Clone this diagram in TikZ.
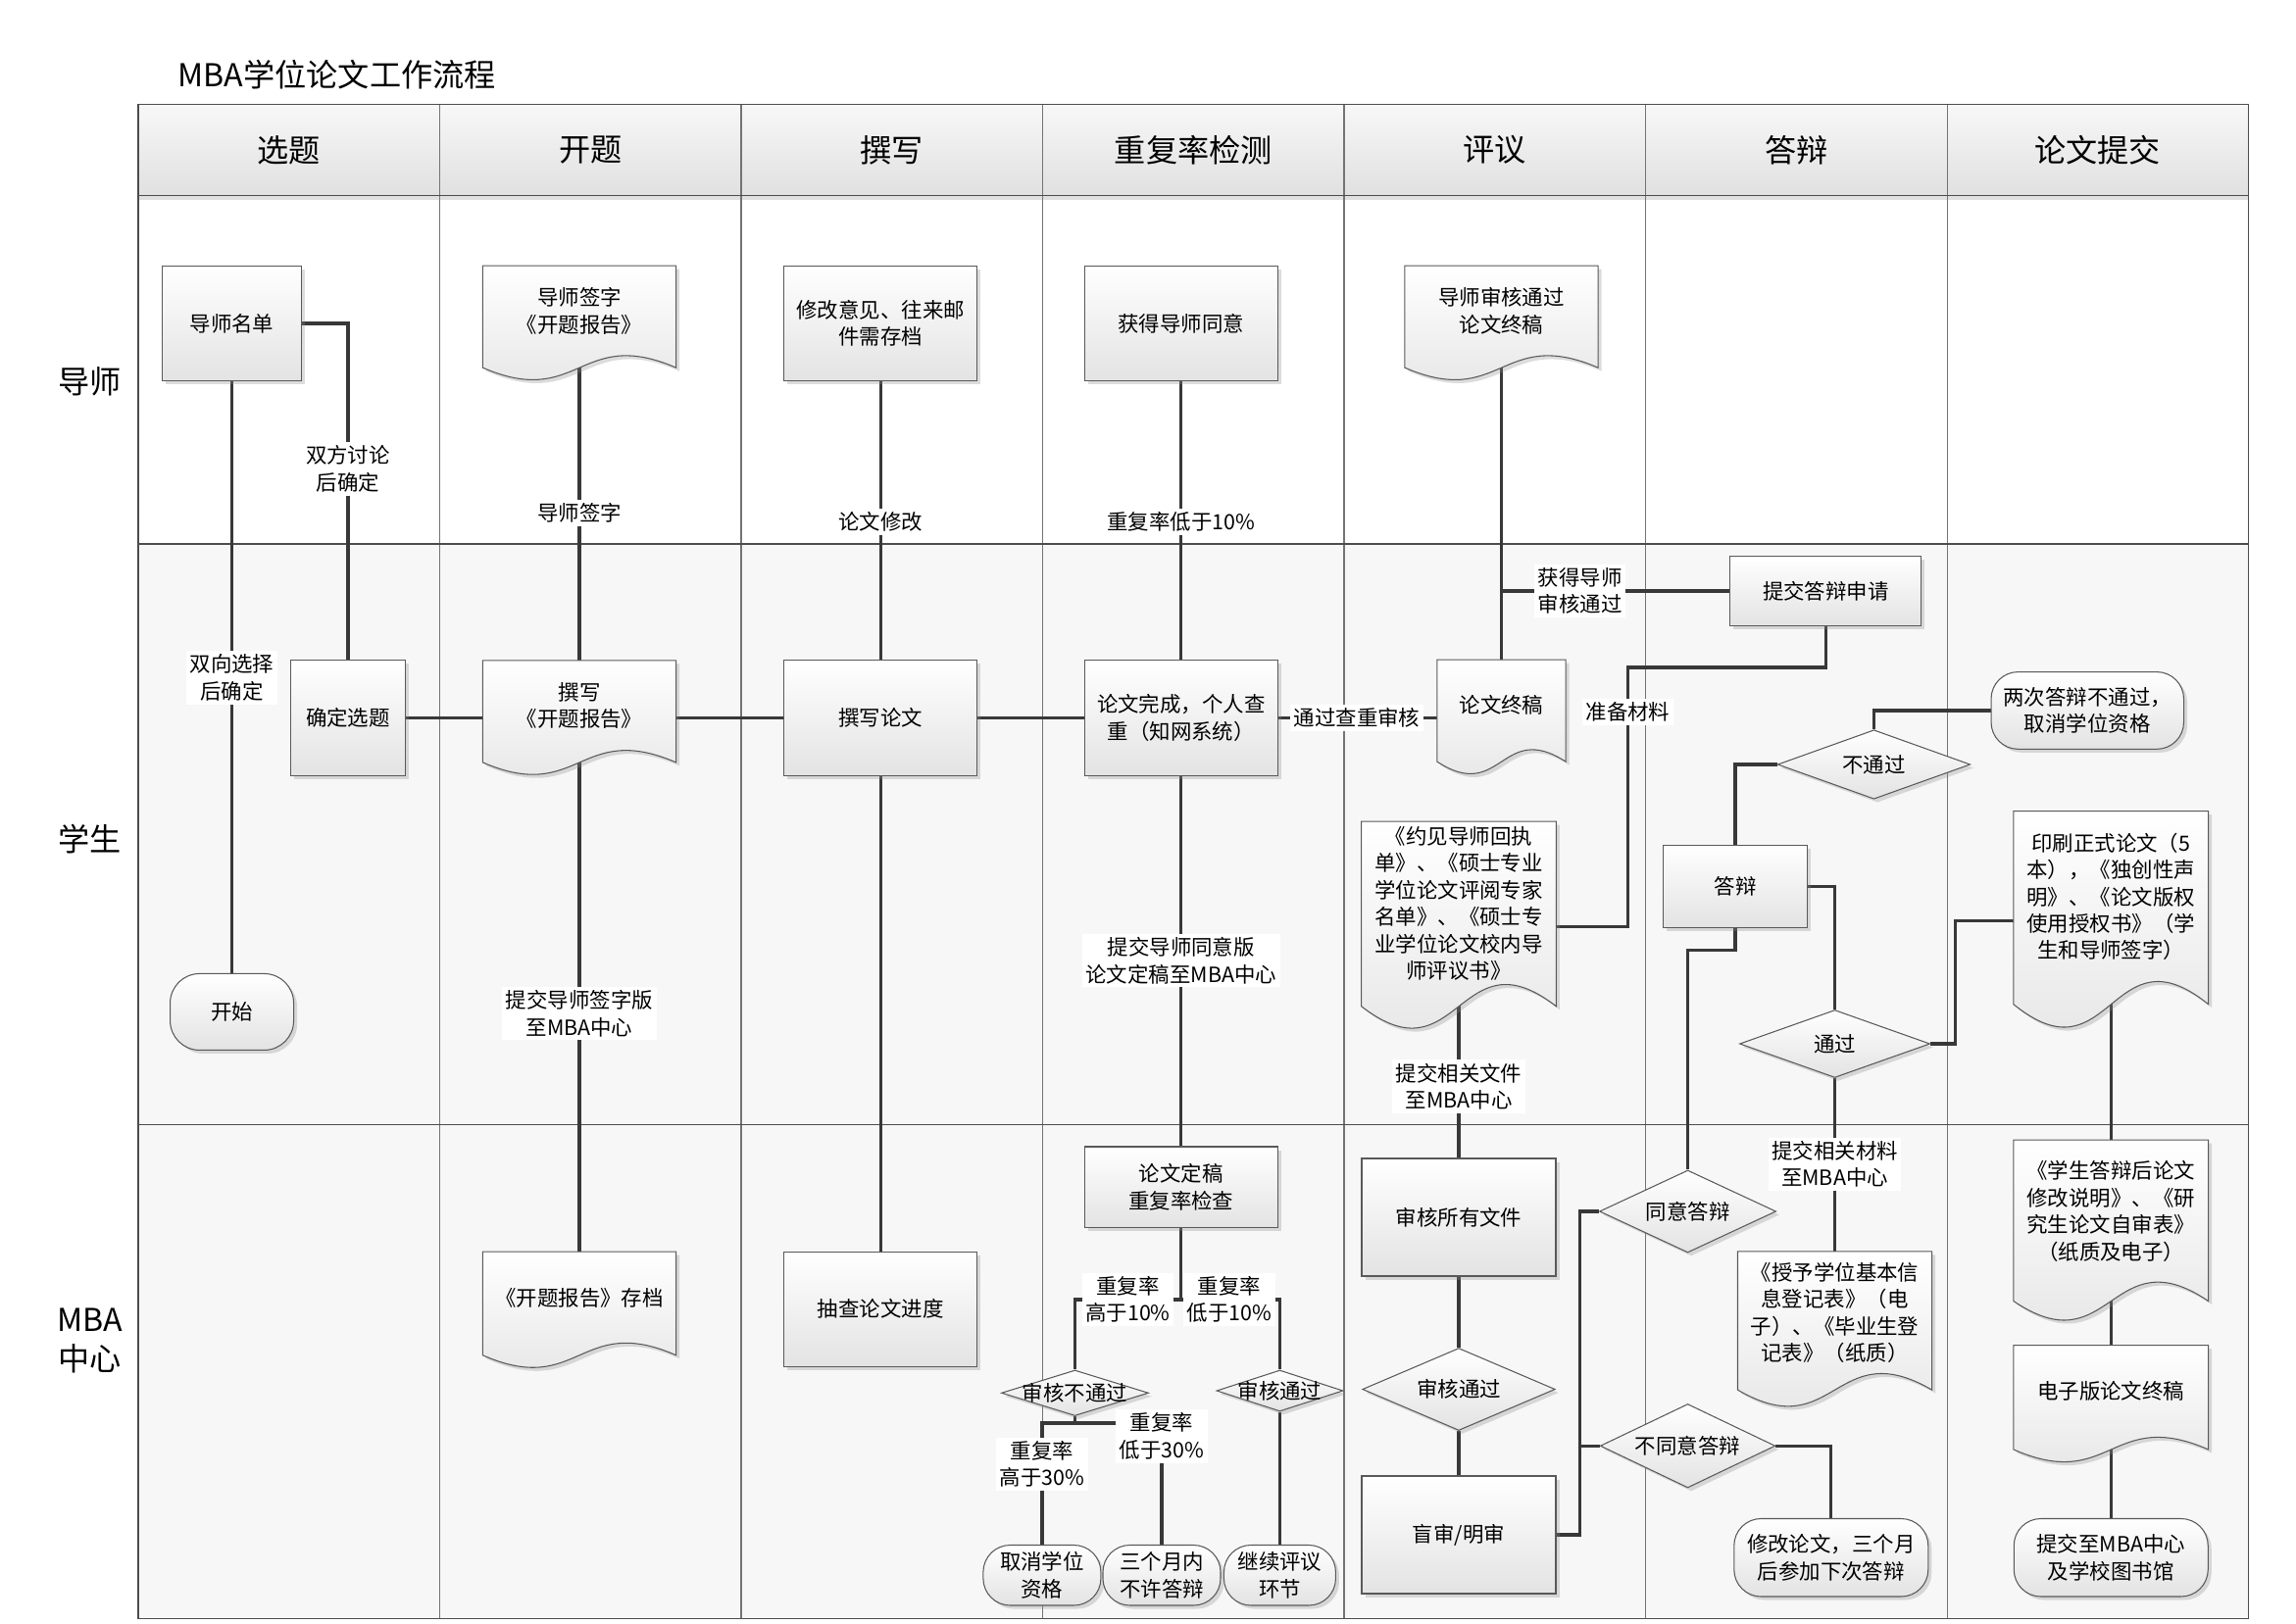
\documentclass[tikz,border=0pt]{standalone}
\usepackage{fontspec}
\setmainfont{Noto Sans CJK SC}
\usetikzlibrary{positioning}
\usetikzlibrary{shapes.geometric,shadows,calc}
\pgfdeclarelayer{lanes}
\pgfdeclarelayer{links}
\pgfdeclarelayer{frames}
\pgfsetlayers{lanes,links,frames,main}
\newcommand{\dtxt}[1]{\makebox[0pt]{#1}}
\tikzset{
        boxtext/.style={font=\fontsize{12.2}{15.6}\selectfont},
        % common look of the flow shapes
        flowshape/.style={boxtext, align=center, inner sep=1pt, draw=black!65, line width=0.6pt,
                          top color=white, bottom color=black!11,
                          drop shadow={shadow xshift=2pt, shadow yshift=-2pt, opacity=0.3, fill=black!45}},
        % process boxes
        procbox/.style={flowshape, rectangle},
        % terminals
        termbox/.style={flowshape, rectangle, rounded corners=0.55cm},
        % decisions
        decbox/.style={flowshape, diamond, inner sep=0pt},
        % documents (the wavy frame is drawn on its own layer)
        docbox/.style={boxtext, align=center, inner sep=1pt, rectangle},
        docframe/.style={draw=black!65, line width=0.6pt, top color=white, bottom color=black!11,
                         drop shadow={shadow xshift=2pt, shadow yshift=-2pt, opacity=0.3, fill=black!45}},
        wh/.style 2 args={minimum width=#1*0.03cm, minimum height=#2*0.03cm},
        link/.style={draw=black!78, line width=1.9pt},
        linklabel/.style={boxtext, align=center, fill=white, inner sep=2pt},
        headtext/.style={font=\fontsize{18.3}{23}\selectfont, align=center},
        gridline/.style={draw=black!70, line width=0.8pt},
        lanedivider/.style={draw=black!55, line width=0.6pt}
}
\begin{document}
\begin{tikzpicture}[x=0.03cm, y=-0.03cm]
\useasboundingbox (0,0) rectangle (1561.33,1104.67);

% swimlanes
\begin{pgfonlayer}{lanes}
  \fill[white] (0,0) rectangle (1561.33,1104.67);
  \fill[black!3] (94,370) rectangle (1529,1101);
  \shade[top color=black!3, bottom color=black!12] (94,71) rectangle (1529,133);
  \fill[black!12] (94,133) rectangle (1529,136);
  \foreach \i in {1,...,6}
    \draw[lanedivider] (94+205*\i,71) -- (94+205*\i,1101);
  \foreach \row in {133,370,765}
    \draw[gridline] (94,\row) -- (1529,\row);
  \draw[gridline] (94,71) rectangle (1529,1101);
\end{pgfonlayer}

\node[anchor=west, headtext] (title) at (117,51) {MBA学位论文工作流程};
\foreach \lanename [count=\i] in {选题,开题,撰写,重复率检测,评议,答辩,论文提交}
  \node[headtext] (head\i) at (205*\i-8.5,102) {\lanename};
\node[headtext] (tutor) at (61,259.5) {导师};
\node[headtext] (student) at (61,570.7) {学生};
\node[headtext] (centre) at (61,912) {MBA\\中心};

% 选题
\node[procbox, wh={95}{78.5}] (mentor) at (157.7,220) {导师名单};
\node[procbox, wh={78}{78.4}] (topic) at (236.6,488.4) {确定选题};
\node[termbox, wh={84}{52}, rounded corners=0.6cm] (start) at (157.7,688.3) {开始};
% 开题
\node[docbox, wh={131}{61}] (ktsign) at (394,211.5) {导师签字\\《开题报告》};
\node[docbox, wh={131}{61}] (ktwrite) at (394,480) {撰写\\《开题报告》};
\node[docbox, wh={131}{62}] (ktfile) at (394,882.6) {《开题报告》存档};
% 撰写
\node[procbox, wh={131}{78.5}] (comments) at (598.8,220) {修改意见、往来邮\\件需存档};
\node[procbox, wh={131}{78.5}] (write) at (598.8,488.4) {撰写论文};
\node[procbox, wh={131}{78}] (spot) at (598.8,890.5) {抽查论文进度};
% 重复率检测
\node[procbox, wh={131}{78.5}] (agree) at (803.2,220) {获得导师同意};
\node[procbox, wh={131}{78.5}] (check) at (803.2,488.4) {论文完成，个人查\\重（知网系统）};
\node[procbox, wh={131}{55}] (recheck) at (803.2,807.5) {论文定稿\\重复率检查};
\node[decbox, wh={100}{31}] (fail) at (731,947.5) {\dtxt{审核不通过}};
\node[decbox, wh={86}{28}] (okrate) at (870.3,946) {\dtxt{审核通过}};
\node[termbox, wh={80}{41}] (cancel) at (708.6,1071.5) {取消学位\\资格};
\node[termbox, wh={80}{41}] (wait3) at (790,1071.5) {三个月内\\不许答辩};
\node[termbox, wh={76}{41}] (cont) at (870.3,1071.5) {继续评议\\环节};
% 评议
\node[docbox, wh={131}{61}] (finalok) at (1021,211.5) {导师审核通过\\论文终稿};
\node[docbox, wh={87}{61}] (final) at (1021,479.5) {论文终稿};
\node[docbox, wh={132}{111}] (forms) at (992,614.5) {《约见导师回执\\单》、《硕士专业\\学位论文评阅专家\\名单》、《硕士专\\业学位论文校内导\\师评议书》};
\node[procbox, wh={132}{80}] (review) at (992,828) {审核所有文件};
\node[decbox, wh={131}{56}] (pass5) at (992,945) {\dtxt{审核通过}};
\node[procbox, wh={132}{80}] (blind) at (992,1044) {盲审/明审};
% 答辩
\node[procbox, wh={130}{47.5}] (defreq) at (1241.6,402) {提交答辩申请};
\node[decbox, wh={131}{47}] (failD) at (1274.3,520) {\dtxt{不通过}};
\node[procbox, wh={98.5}{56}] (debate) at (1180,603) {答辩};
\node[decbox, wh={129.4}{46}] (passD) at (1247.7,710) {\dtxt{通过}};
\node[docbox, wh={131.6}{83}] (grant) at (1247.7,893) {《授予学位基本信\\息登记表》（电\\子）、《毕业生登\\记表》（纸质）};
\node[decbox, wh={120}{56}] (agreeD) at (1147.7,824) {\dtxt{同意答辩}};
\node[decbox, wh={119}{57}] (disagreeD) at (1147.7,983.5) {\dtxt{不同意答辩}};
\node[termbox, wh={132}{53}] (retry) at (1245.2,1059.5) {修改论文，三个月\\后参加下次答辩};
% 论文提交
\node[termbox, wh={131}{52.5}] (twice) at (1419.5,483.3) {两次答辩不通过，\\取消学位资格};
\node[docbox, wh={132}{116}] (printdoc) at (1435.5,610) {印刷正式论文（5\\本），《独创性声\\明》、《论文版权\\使用授权书》（学\\生和导师签字）};
\node[docbox, wh={132}{96.7}] (revise) at (1435.5,824) {《学生答辩后论文\\修改说明》、《研\\究生论文自审表》\\（纸质及电子）};
\node[docbox, wh={132}{62.4}] (efinal) at (1435.5,946.5) {电子版论文终稿};
\node[termbox, wh={132}{53}] (submitlib) at (1435.5,1059.5) {提交至MBA中心\\及学校图书馆};

% wavy document frames
\begin{pgfonlayer}{frames}
  \foreach \d in {ktsign,ktwrite,ktfile,finalok,final,forms,grant,printdoc,revise,efinal}
    \draw[docframe] (\d.north west) -- (\d.north east)
      -- ($(\d.north east)!1.128!(\d.south east)$)
      .. controls ($(\d.north)!0.667!(\d.south)$) and ($(\d.north)!1.59!(\d.south)$)
      .. ($(\d.north west)!1.128!(\d.south west)$) -- cycle;
\end{pgfonlayer}

% connectors
\begin{pgfonlayer}{links}
  % 选题
  \draw[link] (mentor.east) -| (topic.north);
  \draw[link] (mentor.south) -- (start.north);
  \draw[link] (topic.east) -- (topic.east -| ktwrite.west);
  % 开题
  \draw[link] (ktsign.center) -- (ktwrite.north);
  \draw[link] (ktwrite.center) -- (ktfile.north);
  \draw[link] (ktwrite.east |- write.west) -- (write.west);
  % 撰写
  \draw[link] (comments.south) -- (write.north);
  \draw[link] (write.south) -- (spot.north);
  \draw[link] (write.east) -- (check.west);
  % 重复率检测
  \draw[link] (agree.south) -- (check.north);
  \draw[link] (check.east) -- (check.east -| final.west);
  \draw[link] (check.south) -- (recheck.north);
  \coordinate (split) at (803.2,884);
  \draw[link] (recheck.south) -- (split);
  \draw[link] (fail.north) |- (split) -| (okrate.north);
  \coordinate (split2) at (731,968);
  \draw[link] (fail.south) -- (split2);
  \draw[link] (cancel.north) |- (split2) -| (wait3.north);
  \draw[link] (okrate.south) -- (cont.north);
  % 评议
  \draw[link] (finalok.center) -- (final.north);
  \coordinate (gotok) at (1021,402);
  \draw[link] (gotok) -- (defreq.west);
  \coordinate (prep) at (1107,454);
  \coordinate (prep2) at (1107,630.3);
  \draw[link] (defreq.south) |- (prep) -- (prep2) -- (prep2 -| forms.east);
  \draw[link] (forms.center) -- (review.north);
  \draw[link] (review.south) -- (pass5.north);
  \draw[link] (pass5.south) -- (blind.north);
  \coordinate (bus) at (1074.3,1044);
  \draw[link] (blind.east) -- (bus) |- (agreeD.west);
  \draw[link] (bus |- disagreeD.west) -- (disagreeD.west);
  % 答辩
  \draw[link] (failD.north) |- (twice.west);
  \draw[link] (failD.west) -| (debate.north);
  \draw[link] (debate.east) -| (passD.north);
  \coordinate (dbend) at (1147.7,646.4);
  \draw[link] (debate.south) |- (dbend) -- (agreeD.north);
  \coordinate (pbend) at (1329.5,626.5);
  \draw[link] (passD.east) -| (pbend) -- (pbend -| printdoc.west);
  \draw[link] (passD.south) -- (grant.north);
  \draw[link] (disagreeD.east) -| (retry.north);
  % 论文提交
  \draw[link] (printdoc.center) -- (revise.north);
  \draw[link] (revise.center) -- (efinal.north);
  \draw[link] (efinal.center) -- (submitlib.north);
\end{pgfonlayer}

% connector labels
\node[linklabel] (ldiscuss) at (236.6,319) {双方讨论\\后确定};
\node[linklabel] (lselect) at (157.7,461) {双向选择\\后确定};
\node[linklabel] (lsign) at (394,349) {导师签字};
\node[linklabel] (lsubmit) at (394,689.5) {提交导师签字版\\至MBA中心};
\node[linklabel] (lmodify) at (598.8,354.7) {论文修改};
\node[linklabel] (llow10) at (803.2,354.7) {重复率低于10\%};
\node[linklabel] (lpass) at (922.7,488.4) {通过查重审核};
\node[linklabel] (lsend) at (803.2,653.4) {提交导师同意版\\论文定稿至MBA中心};
\node[linklabel] (lhi10) at (767,884) {重复率\\高于10\%};
\node[linklabel] (llo10) at (836,884) {重复率\\低于10\%};
\node[linklabel] (lhi30) at (708.6,996) {重复率\\高于30\%};
\node[linklabel] (llo30) at (790,977) {重复率\\低于30\%};
\node[linklabel] (lgot) at (1074.5,402) {获得导师\\审核通过};
\node[linklabel] (lprep) at (1107,484.5) {准备材料};
\node[linklabel] (lsubmit2) at (992,739) {提交相关文件\\至MBA中心};
\node[linklabel] (lsubmit3) at (1247.7,792) {提交相关材料\\至MBA中心};
\end{tikzpicture}
\end{document}
